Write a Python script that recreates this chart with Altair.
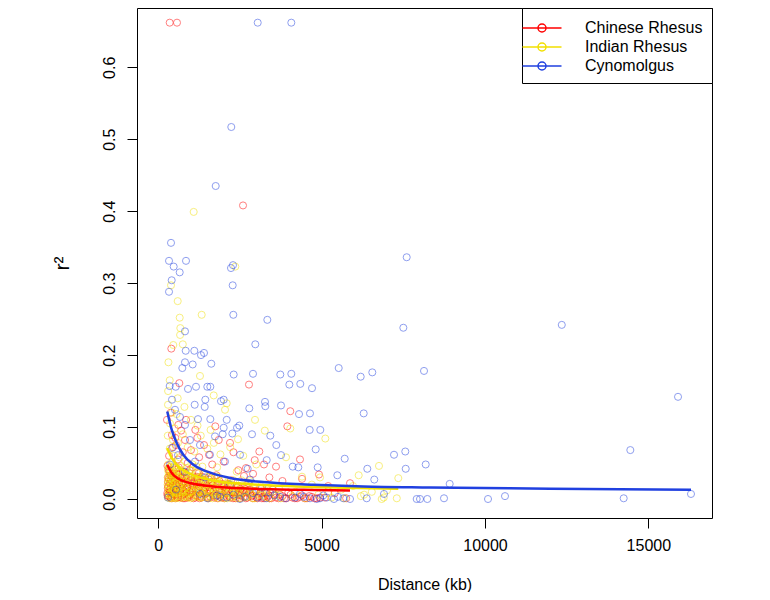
import altair as alt
import pandas as pd

species = ["Chinese Rhesus", "Indian Rhesus", "Cynomolgus"]
colors = ["#FF0000", "#F2E000", "#2040E0"]
x_ticks = [0, 5000, 10000, 15000]
y_ticks = [0.0, 0.1, 0.2, 0.3, 0.4, 0.5, 0.6]

# Chinese Rhesus points (distance kb, r2)
cn_pts = [
    (349, 0.662), (572, 0.662), (2593, 0.408), (398, 0.209), (643, 0.161), (2776, 0.159),
    (4040, 0.122), (380, 0.120), (850, 0.110), (266, 0.110), (612, 0.103), (1745, 0.101),
    (3949, 0.101), (1133, 0.096), (700, 0.095), (419, 0.089), (1194, 0.085), (520, 0.085),
    (817, 0.082), (1850, 0.082), (2195, 0.078), (542, 0.075), (1400, 0.075), (450, 0.072),
    (1000, 0.068), (3092, 0.066), (750, 0.065), (2300, 0.065), (1552, 0.0615), (330, 0.060),
    (1250, 0.058), (600, 0.055), (4337, 0.055), (2951, 0.054), (2000, 0.052), (900, 0.050),
    (3235, 0.048), (1650, 0.048), (3603, 0.045), (2684, 0.043), (2450, 0.040), (2900, 0.035),
    (4919, 0.034), (2623, 0.032), (3400, 0.030), (4400, 0.028), (3800, 0.025), (5868, 0.022),
    (5200, 0.018),
    (280, 0.046), (300, 0.030), (290, 0.015), (310, 0.004), (340, 0.038), (360, 0.022),
    (380, 0.010), (400, 0.001), (420, 0.032), (450, 0.018), (470, 0.006), (500, 0.041),
    (520, 0.026), (550, 0.012), (580, 0.002), (610, 0.034), (640, 0.020), (670, 0.008),
    (700, 0.029), (730, 0.015), (760, 0.001), (800, 0.037), (830, 0.022), (860, 0.009),
    (900, 0.017), (940, 0.003), (980, 0.026), (1020, 0.012), (1060, 0.044), (1100, 0.019),
    (1140, 0.005), (1180, 0.031), (1220, 0.014), (1260, 0.001), (1300, 0.023), (1350, 0.008),
    (1400, 0.036), (1450, 0.016), (1500, 0.003), (1550, 0.027), (1600, 0.010), (1660, 0.019),
    (1720, 0.002), (1780, 0.033), (1840, 0.012), (1900, 0.006), (1960, 0.021), (2020, 0.001),
    (2090, 0.015), (2160, 0.004), (2230, 0.026), (2300, 0.009), (2370, 0.001), (2440, 0.018),
    (2520, 0.005), (2600, 0.012), (2680, 0.001), (2760, 0.022), (2850, 0.004), (2940, 0.010),
    (3030, 0.001), (3120, 0.016), (3210, 0.003), (3300, 0.008), (3400, 0.001), (3500, 0.013),
    (3600, 0.002), (3720, 0.006), (3850, 0.001), (3980, 0.009), (4100, 0.002), (4250, 0.001),
    (4400, 0.005), (4550, 0.001), (4700, 0.003), (4850, 0.001), (5100, 0.002), (5400, 0.008),
    (5750, 0.001),
    (275, 0.008), (295, 0.024), (320, 0.041), (345, 0.013), (370, 0.002), (395, 0.027),
    (430, 0.007), (460, 0.035), (490, 0.016), (515, 0.001), (540, 0.030), (570, 0.019),
    (595, 0.006), (625, 0.044), (655, 0.012), (690, 0.002), (720, 0.024), (750, 0.038),
    (780, 0.011), (815, 0.001), (850, 0.028), (880, 0.016), (920, 0.005), (960, 0.040),
    (1000, 0.009), (1040, 0.022), (1080, 0.001), (1120, 0.030), (1160, 0.013), (1200, 0.004),
    (1240, 0.036), (1280, 0.017), (1330, 0.002), (1380, 0.025), (1430, 0.007), (1480, 0.019),
    (1530, 0.001), (1580, 0.013), (1630, 0.030), (1690, 0.005), (1750, 0.016), (1810, 0.001),
    (1870, 0.025), (1930, 0.009), (2000, 0.003), (2060, 0.013), (2130, 0.021), (2200, 0.002),
    (2270, 0.011), (2340, 0.004), (2410, 0.016), (2490, 0.001), (2570, 0.008), (2650, 0.014),
    (2730, 0.002), (2810, 0.007), (2900, 0.001), (2990, 0.011), (3080, 0.004), (3170, 0.001),
    (3260, 0.009), (3350, 0.003), (3460, 0.001), (3560, 0.006), (3680, 0.001), (3800, 0.004),
    (3920, 0.001), (4050, 0.006), (4180, 0.001), (4320, 0.003), (4480, 0.001), (4620, 0.004),
    (4780, 0.001), (4950, 0.002),
    (282, 0.005), (302, 0.018), (322, 0.028), (352, 0.009), (372, 0.033), (392, 0.016),
    (412, 0.004), (437, 0.024), (457, 0.012), (482, 0.029), (507, 0.006), (532, 0.020),
    (557, 0.035), (587, 0.014), (617, 0.003), (647, 0.026), (677, 0.016), (707, 0.005),
    (737, 0.031), (767, 0.020), (797, 0.007), (827, 0.014), (857, 0.033), (887, 0.002),
    (917, 0.023), (947, 0.011), (977, 0.006), (1007, 0.030), (1047, 0.015), (1087, 0.024),
    (1127, 0.002), (1167, 0.020), (1207, 0.028), (1247, 0.009), (1287, 0.004), (1337, 0.031),
    (1387, 0.012), (1437, 0.022), (1487, 0.008), (1537, 0.017), (1587, 0.003), (1637, 0.024),
    (1697, 0.011), (1757, 0.004), (1817, 0.020), (1877, 0.013), (1937, 0.002), (2007, 0.017),
    (2077, 0.008), (2147, 0.012), (2217, 0.018), (2287, 0.001), (2357, 0.010), (2437, 0.006),
    (2517, 0.014), (2607, 0.003), (2697, 0.009), (2797, 0.013), (2897, 0.005), (3007, 0.002),
    (3117, 0.008), (3237, 0.001), (3367, 0.005),
]

# Indian Rhesus points
in_pts = [
    (1083, 0.399), (2357, 0.323), (389, 0.297), (594, 0.275), (655, 0.252), (1328, 0.256),
    (674, 0.2375), (667, 0.228), (750, 0.215), (459, 0.214), (310, 0.190), (1276, 0.171),
    (350, 0.165), (300, 0.150), (1696, 0.144), (594, 0.140), (2094, 0.133), (297, 0.131),
    (800, 0.128), (2042, 0.124), (420, 0.120), (560, 0.118), (2960, 0.110), (1000, 0.110),
    (360, 0.105), (1200, 0.102), (500, 0.098), (4040, 0.098), (1600, 0.096), (3260, 0.095),
    (750, 0.090), (290, 0.088), (1300, 0.088), (5112, 0.084), (2440, 0.083), (450, 0.082),
    (600, 0.078), (1700, 0.078), (900, 0.072), (2200, 0.072), (1500, 0.070), (350, 0.070),
    (1100, 0.066), (1900, 0.062), (480, 0.060), (2600, 0.060), (3909, 0.058), (650, 0.058),
    (820, 0.052), (1050, 0.048), (3000, 0.048), (6755, 0.046), (1350, 0.045), (1800, 0.044),
    (2400, 0.038), (6134, 0.033), (4398, 0.031), (4950, 0.030), (7346, 0.029), (2800, 0.025),
    (3300, 0.020), (4700, 0.020), (5960, 0.018), (3700, 0.014), (5600, 0.013), (7000, 0.012),
    (4200, 0.010), (5200, 0.008), (6300, 0.006), (6838, 0.0),
    (290, 0.002), (310, 0.012), (300, 0.024), (320, 0.035), (305, 0.048), (330, 0.006),
    (360, 0.018), (380, 0.030), (350, 0.041), (400, 0.003), (420, 0.014), (450, 0.026),
    (430, 0.052), (470, 0.009), (500, 0.020), (520, 0.033), (540, 0.001), (560, 0.044),
    (580, 0.011), (610, 0.024), (640, 0.004), (660, 0.036), (700, 0.016), (720, 0.028),
    (760, 0.002), (790, 0.010), (820, 0.021), (850, 0.038), (880, 0.006), (920, 0.015),
    (960, 0.027), (990, 0.001), (1020, 0.011), (1060, 0.033), (1100, 0.019), (1130, 0.004),
    (1170, 0.024), (1210, 0.009), (1250, 0.014), (1290, 0.030), (1330, 0.002), (1370, 0.018),
    (1410, 0.007), (1450, 0.025), (1500, 0.012), (1540, 0.001), (1590, 0.020), (1630, 0.006),
    (1680, 0.015), (1720, 0.029), (1770, 0.003), (1820, 0.010), (1870, 0.019), (1920, 0.005),
    (1970, 0.013), (2020, 0.001), (2080, 0.022), (2130, 0.008), (2190, 0.016), (2250, 0.002),
    (2310, 0.011), (2380, 0.005), (2450, 0.018), (2520, 0.001), (2600, 0.009), (2700, 0.003),
    (2820, 0.014), (2950, 0.001), (3100, 0.006), (3300, 0.002), (3500, 0.010), (3750, 0.001),
    (4100, 0.004), (4500, 0.001), (4900, 0.006), (5300, 0.002), (5700, 0.001), (6200, 0.004),
    (6535, 0.010), (6900, 0.002), (7300, 0.001),
    (285, 0.020), (295, 0.040), (315, 0.008), (335, 0.028), (355, 0.001), (375, 0.045),
    (395, 0.022), (415, 0.034), (440, 0.011), (460, 0.039), (485, 0.002), (510, 0.029),
    (530, 0.016), (555, 0.008), (575, 0.031), (600, 0.041), (625, 0.013), (650, 0.001),
    (680, 0.022), (710, 0.040), (740, 0.009), (770, 0.033), (810, 0.014), (840, 0.003),
    (870, 0.026), (910, 0.008), (950, 0.036), (1000, 0.018), (1040, 0.002), (1080, 0.026),
    (1120, 0.013), (1160, 0.037), (1200, 0.003), (1240, 0.021), (1280, 0.010), (1320, 0.028),
    (1360, 0.005), (1400, 0.016), (1440, 0.034), (1480, 0.002), (1520, 0.022), (1570, 0.009),
    (1610, 0.028), (1660, 0.001), (1700, 0.017), (1750, 0.006), (1800, 0.024), (1850, 0.001),
    (1900, 0.014), (1950, 0.027), (2000, 0.007), (2060, 0.018), (2110, 0.001), (2170, 0.010),
    (2230, 0.021), (2290, 0.004), (2350, 0.015), (2420, 0.001), (2490, 0.008), (2560, 0.019),
    (2650, 0.003), (2750, 0.010), (2880, 0.001), (3000, 0.012), (3200, 0.005), (3400, 0.001),
    (288, 0.030), (308, 0.016), (328, 0.044), (348, 0.025), (368, 0.007), (388, 0.037),
    (408, 0.019), (432, 0.001), (452, 0.030), (478, 0.044), (498, 0.012), (522, 0.023),
    (548, 0.003), (572, 0.038), (598, 0.018), (628, 0.030), (658, 0.007), (688, 0.046),
    (718, 0.012), (748, 0.024), (778, 0.004), (808, 0.030), (838, 0.017), (868, 0.043),
    (898, 0.002), (928, 0.031), (968, 0.009), (1008, 0.040), (1048, 0.026), (1088, 0.007),
    (1128, 0.020), (1168, 0.045), (1208, 0.016), (1248, 0.030), (1288, 0.002), (1338, 0.012),
    (1388, 0.035), (1438, 0.020), (1488, 0.011), (1538, 0.031), (1588, 0.004), (1648, 0.024),
    (1708, 0.009), (1768, 0.020), (1828, 0.031), (1888, 0.008), (1948, 0.019), (2018, 0.026),
    (2088, 0.003), (2158, 0.021), (2228, 0.012), (2298, 0.026), (2378, 0.008), (2458, 0.013),
    (2548, 0.026), (2638, 0.012), (2738, 0.018), (2848, 0.007), (2968, 0.020), (3150, 0.010),
    (3350, 0.014), (3600, 0.005),
]

# Cynomolgus points
cy_pts = [
    (3043, 0.662), (4071, 0.662), (2234, 0.517), (1757, 0.435), (389, 0.356), (328, 0.331),
    (471, 0.323), (848, 0.331), (655, 0.315), (2286, 0.325), (2225, 0.321), (410, 0.304),
    (328, 0.288), (2277, 0.297), (7603, 0.336), (2296, 0.256), (3337, 0.249), (7500, 0.238),
    (12350, 0.242), (8133, 0.178), (15908, 0.142), (14448, 0.068), (8185, 0.048), (8919, 0.021),
    (8010, 0.0), (8234, 0.0), (8745, 0.001), (10092, 0.0), (10612, 0.004), (14245, 0.001),
    (16305, 0.007),
    (817, 0.233), (839, 0.206), (1102, 0.206), (1307, 0.200), (1399, 0.203), (2969, 0.215),
    (817, 0.190), (735, 0.182), (1053, 0.187), (1622, 0.188), (5522, 0.182), (6195, 0.170),
    (6550, 0.176), (2308, 0.173), (2899, 0.174), (3734, 0.173), (4071, 0.174), (4010, 0.159),
    (4346, 0.160), (4705, 0.154), (349, 0.157), (533, 0.156), (909, 0.153), (1154, 0.156),
    (1500, 0.156), (1592, 0.156), (1439, 0.138), (1114, 0.131), (1420, 0.128), (1919, 0.136),
    (2002, 0.138), (3266, 0.135), (3275, 0.129), (3756, 0.130), (2785, 0.126), (4307, 0.118),
    (4643, 0.119), (6287, 0.119), (1215, 0.111), (1592, 0.111), (2094, 0.110), (2002, 0.099),
    (2409, 0.099), (2479, 0.102), (1971, 0.090), (2265, 0.091), (2868, 0.090), (3428, 0.088),
    (4634, 0.096), (4959, 0.096), (3612, 0.075), (4818, 0.069), (3756, 0.061), (7215, 0.0615),
    (7560, 0.066), (5706, 0.056), (3318, 0.054), (2736, 0.042), (4114, 0.045), (4285, 0.044),
    (4879, 0.044), (5479, 0.033), (6397, 0.042), (6611, 0.027), (7573, 0.042), (6908, 0.007),
    (4643, 0.001), (4849, 0.0), (5155, 0.002), (5378, 0.0), (5663, 0.001), (5868, 0.0),
    (6379, 0.001), (7909, 0.0),
    (419, 0.138), (511, 0.124), (664, 0.114), (817, 0.103), (970, 0.082), (419, 0.071),
    (603, 0.061), (1276, 0.075), (1736, 0.087), (1123, 0.052), (1582, 0.0615), (2042, 0.052),
    (2501, 0.0615), (358, 0.048), (817, 0.038), (1429, 0.030), (2195, 0.020), (2807, 0.027),
    (3174, 0.0157), (3419, 0.0088), (3725, 0.003), (4184, 0.002), (4337, 0.007), (3052, 0.002),
    (2501, 0.0), (1889, 0.003), (1276, 0.007), (542, 0.013), (297, 0.002),
    (1500, 0.001), (1800, 0.005), (2100, 0.002), (2300, 0.006), (2650, 0.003), (2900, 0.008),
    (3300, 0.001), (3550, 0.005), (3900, 0.001), (4450, 0.003), (4950, 0.001), (5050, 0.005),
    (5500, 0.003),
]

# fitted decay curves
cn_curve_x = [275, 410, 612, 970, 1684, 3214, 4848, 5867]
cn_curve_y = [0.0476, 0.0361, 0.0282, 0.0222, 0.0175, 0.0139, 0.0125, 0.0119]
in_curve_x = [275, 410, 612, 970, 1684, 2706, 4236, 5767, 7346]
in_curve_y = [0.0708, 0.0570, 0.0453, 0.0351, 0.0258, 0.0208, 0.0175, 0.0157, 0.0143]
cy_curve_x = [275, 410, 563, 765, 1071, 1481, 2195, 3214, 4744, 6275, 8316, 12000, 16305]
cy_curve_y = [0.1217, 0.0963, 0.0778, 0.0615, 0.0476, 0.0383, 0.0292, 0.0236, 0.0199,
              0.0175, 0.0161, 0.0143, 0.0129]

rows = []
for name, pts in zip(species, [cn_pts, in_pts, cy_pts]):
    for d, r in pts:
        rows.append({"species": name, "distance": d, "r2": r})
points_df = pd.DataFrame(rows)
points_df["idx"] = range(len(points_df))

crow = []
for name, xs, ys in zip(species, [cn_curve_x, in_curve_x, cy_curve_x],
                        [cn_curve_y, in_curve_y, cy_curve_y]):
    for d, r in zip(xs, ys):
        crow.append({"species": name, "distance": d, "r2": r})
curve_df = pd.DataFrame(crow)

FONT = "Liberation Sans"
xscale = alt.Scale(domain=[-652, 16948], nice=False, zero=False)
yscale = alt.Scale(domain=[-0.0264, 0.6824], nice=False, zero=False)
cscale = alt.Scale(domain=species, range=colors)

# legend glyph: line with an open circle (scaled by sqrt(size)/2 = 10 px per unit)
legend_path = "M-1.95,0L1.95,0M0.4,0A0.4,0.4,0,1,1,-0.4,0A0.4,0.4,0,1,1,0.4,0"

xaxis = alt.Axis(values=x_ticks, format="d", title="Distance (kb)", titleY=66,
                 titleBaseline="middle", labelPadding=9)
yaxis = alt.Axis(values=y_ticks, format=".1f", title="r²", labelAngle=270,
                 labelAlign="center", labelBaseline="bottom", labelPadding=10,
                 titleAngle=270, titleX=-75, titleY=255, titleAlign="center",
                 titleBaseline="middle", titleFontSize=21)

pts = alt.Chart(points_df).mark_point(
    shape="circle", filled=False, size=50, strokeWidth=1, opacity=0.5
).encode(
    x=alt.X("distance:Q", scale=xscale, axis=xaxis),
    y=alt.Y("r2:Q", scale=yscale, axis=yaxis),
    color=alt.Color("species:N", scale=cscale, sort=species, title=None,
                    legend=alt.Legend(orient="top-right", offset=0, symbolType=legend_path,
                                      symbolSize=400, symbolStrokeWidth=1.5, symbolOpacity=1,
                                      symbolFillColor="transparent", symbolOffset=0,
                                      labelOffset=32, labelFontSize=16, labelFont=FONT,
                                      labelColor="black", padding=9, rowPadding=0,
                                      strokeColor="black", fillColor="white",
                                      labelLimit=300)),
    order="idx:Q",
)

lines = alt.Chart(curve_df).mark_line(strokeWidth=2.5, interpolate="monotone").encode(
    x=alt.X("distance:Q", scale=xscale),
    y=alt.Y("r2:Q", scale=yscale),
    color=alt.Color("species:N", scale=cscale, legend=None),
)

chart = alt.layer(pts, lines).properties(
    width=575, height=510,
    autosize=alt.AutoSizeParams(type="none"),
    padding={"left": 129, "top": 0, "right": 40, "bottom": 74},
).configure_view(
    stroke="black", strokeWidth=1
).configure_axis(
    domain=False, grid=False, tickColor="black", tickSize=10, tickWidth=1,
    labelFontSize=16, labelFont=FONT, labelColor="black",
    titleFontSize=16, titleFont=FONT, titleColor="black", titleFontWeight="normal",
)

chart.save("out.html", embed_options={"renderer": "svg", "actions": False})
